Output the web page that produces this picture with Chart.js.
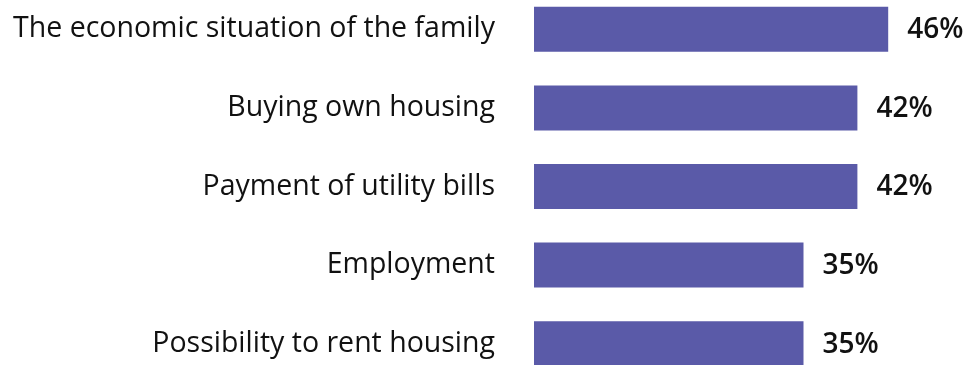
<!DOCTYPE html>
<html>
<head>
<meta charset="utf-8">
<script src="https://cdn.jsdelivr.net/npm/chart.js@4"></script>
<style>
  html, body { margin: 0; padding: 0; background: #fff; overflow: hidden; }
  #problemsChart { position: absolute; left: 0; top: -10px; }
</style>
</head>
<body>
<canvas id="problemsChart" width="972" height="393"></canvas>
<script>
const categories = [
    'The economic situation of the family',
    'Buying own housing',
    'Payment of utility bills',
    'Employment',
    'Possibility to rent housing'
];
const shares = [46, 42, 42, 35, 35];

const barColor = '#5a5aa8';

// writes the percentage just past the end of each bar
const valueLabels = {
    id: 'valueLabels',
    afterDatasetsDraw(chart) {
        const ctx = chart.ctx;
        const meta = chart.getDatasetMeta(0);
        ctx.save();
        ctx.font = '600 28px "Open Sans"';
        ctx.fillStyle = '#111';
        ctx.textAlign = 'left';
        ctx.textBaseline = 'middle';
        meta.data.forEach((bar, i) => {
            ctx.fillText(shares[i] + '%', bar.x + 19, bar.y + 1);
        });
        ctx.restore();
    }
};

const ctx = document.getElementById('problemsChart').getContext('2d');
const problemsChart = new Chart(ctx, {
    type: 'bar',
    data: {
        labels: categories,
        datasets: [{
            data: shares,
            backgroundColor: barColor,
            borderWidth: 0,
            categoryPercentage: 0.573,
            barPercentage: 1
        }]
    },
    options: {
        indexAxis: 'y',
        responsive: false,
        animation: false,
        layout: { padding: { left: 0, right: 53, top: 0, bottom: 0 } },
        plugins: {
            legend: { display: false },
            tooltip: { enabled: false }
        },
        scales: {
            x: {
                display: false,
                min: 0,
                max: 50
            },
            y: {
                grid: { display: false },
                border: { display: false },
                ticks: {
                    color: '#111',
                    padding: 31,
                    font: { family: '"Open Sans"', size: 28.5 }
                },
                afterFit(scale) {
                    // fixed label column; the tick padding should not push the bars inward
                    scale.width = 534;
                    scale.paddingTop = 0;
                    scale.paddingBottom = 0;
                }
            }
        }
    },
    plugins: [valueLabels]
});
</script>
</body>
</html>
